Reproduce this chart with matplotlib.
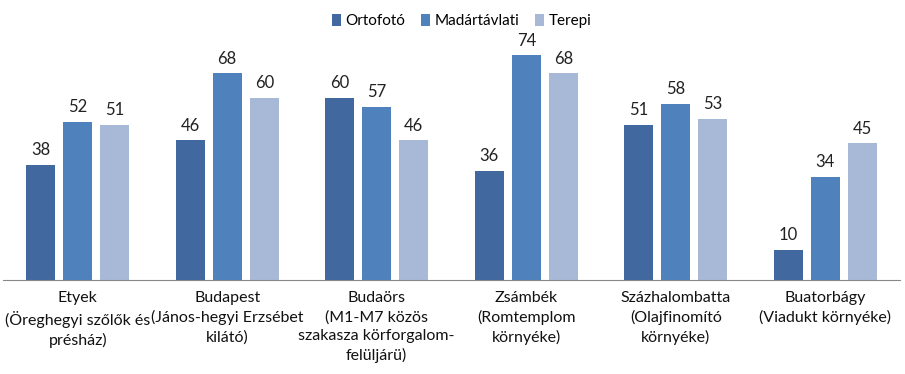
import numpy as np
import matplotlib.pyplot as plt

plt.rcParams['font.family'] = ['Lato', 'DejaVu Sans']

categories = ['Etyek\n(Öreghegyi szőlők és\nprésház)',
              'Budapest\n(János-hegyi Erzsébet\nkilátó)',
              'Budaörs\n(M1-M7 közös\nszakasza körforgalom-\nfelüljárü)',
              'Zsámbék\n(Romtemplom\nkörnyéke)',
              'Százhalombatta\n(Olajfinomító\nkörnyéke)',
              'Buatorbágy\n(Viadukt környéke)']
series_names = ['Ortofotó', 'Madártávlati', 'Terepi']
ortofoto = [38, 46, 60, 36, 51, 10]
madartavlati = [52, 68, 57, 74, 58, 34]
terepi = [51, 60, 46, 68, 53, 45]
colors = ['#41699f', '#4f81bd', '#a8b9d8']

fig = plt.figure(figsize=(9.05, 3.74), dpi=100)
ax = fig.add_axes([3/905, 94/374, 897/905, (280-37)/374])

x = np.arange(len(categories))
width = 0.195
for i, (vals, name) in enumerate(zip([ortofoto, madartavlati, terepi], series_names)):
  bars = ax.bar(x + (i-1)*0.248, vals, width, color=colors[i], label=name)
  for b, v in zip(bars, vals):
    ax.text(b.get_x()+b.get_width()/2, v+2.2, str(v), ha='center', va='bottom', fontsize=12, color='#222222')

ax.set_xlim(-0.5, len(categories)-0.5)
ax.set_ylim(0, 80)
ax.set_yticks([])
ax.set_xticks(x)
ax.set_xticklabels(categories, fontsize=11.5, linespacing=1.42, color='#111111')
ax.tick_params(axis='x', length=0, pad=8)
for s in ['top', 'right', 'left']:
  ax.spines[s].set_visible(False)
ax.spines['bottom'].set_color('#888888')

fig.legend(loc='upper center', bbox_to_anchor=(0.51, 1.0), ncol=3, frameon=False,
           fontsize=11, handlelength=0.6, handleheight=0.9, handletextpad=0.3, columnspacing=1.0)

fig.savefig('out.png')
